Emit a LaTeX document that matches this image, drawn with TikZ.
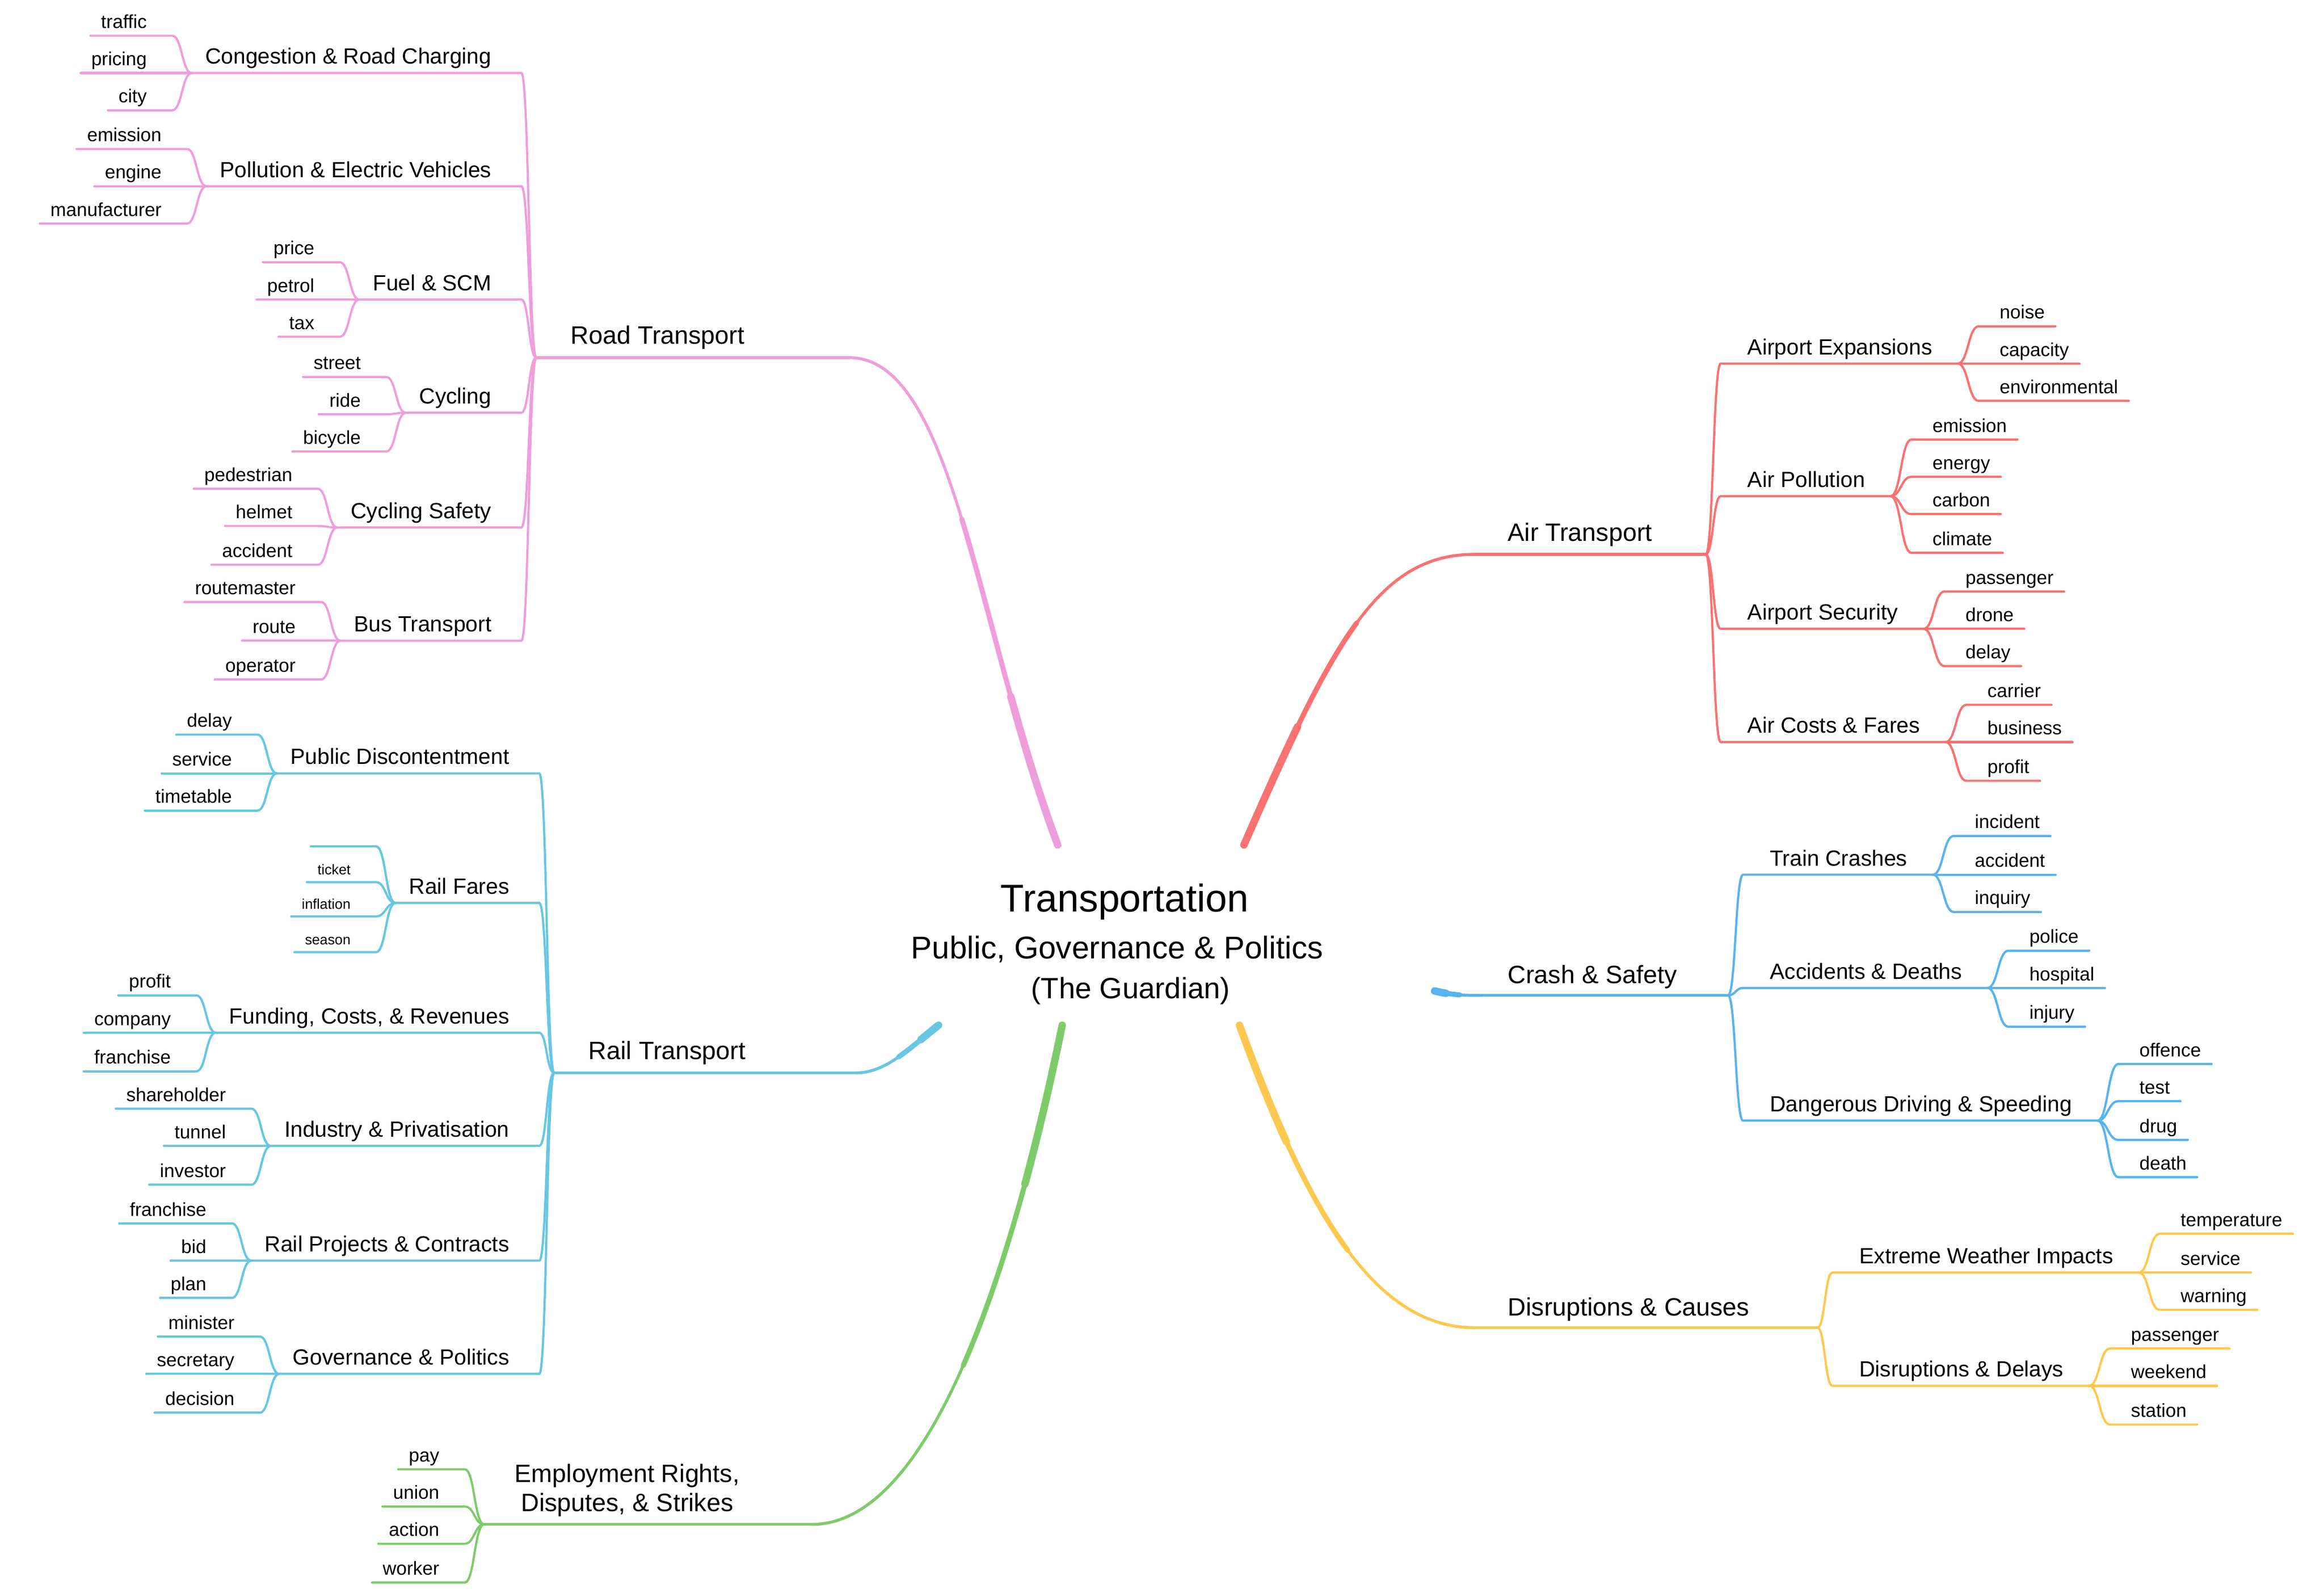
\documentclass[tikz,border=0pt]{standalone}
\usepackage{fontspec}
\setmainfont{Liberation Sans}
\usetikzlibrary{calc}
\definecolor{pinkc}{HTML}{EE9ED8}
\definecolor{redc}{HTML}{F87272}
\definecolor{cyanc}{HTML}{68C6E3}
\definecolor{bluec}{HTML}{58B3EE}
\definecolor{greenc}{HTML}{7ECB6B}
\definecolor{yelc}{HTML}{FDC84F}
\tikzset{
 leaf/.style={font=\fontsize{18}{20}\selectfont, inner sep=0pt},
 sleaf/.style={font=\fontsize{13.5}{15}\selectfont, inner sep=0pt},
 sub/.style={font=\fontsize{21}{24}\selectfont, inner sep=0pt},
 mainl/.style={font=\fontsize{24}{28}\selectfont, inner sep=0pt},
 ln/.style={line width=0.75mm, line cap=round},
 mln/.style={line width=1mm, line cap=round},
 sc/.style={to path={let \p1=(\tikztostart), \p2=(\tikztotarget) in .. controls ({(\x1+\x2)/2},\y1) and ({(\x1+\x2)/2},\y2) .. (\tikztotarget)}},
}
\newcommand\LL[4][leaf]{%
 \path (\J) ++(-13,0) coordinate (#2x);
 \coordinate (#2r) at (#2x |- 0,#3);
 \node[#1,anchor=base east] (#2) at ([shift={(-17,-5)}]#2r) {#4};
 \draw[ln,\C] (\J) to[sc] (#2r) -- ($(#2.west |- #2r)+(-7,0)$);
}
\newcommand\LR[4][leaf]{%
 \path (\J) ++(14,0) coordinate (#2x);
 \coordinate (#2l) at (#2x |- 0,#3);
 \node[#1,anchor=base west] (#2) at ([shift={(14,-5)}]#2l) {#4};
 \draw[ln,\C] (\J) to[sc] (#2l) -- ($(#2.east |- #2l)+(7,0)$);
}
\newcommand\SL[3]{%
 \path (\M) ++(-10,0) coordinate (#1x);
 \coordinate (#1r) at (#1x |- 0,#2);
 \node[sub,anchor=base east] (#1) at ([shift={(-20,-6)}]#1r) {#3};
 \coordinate (#1l) at ($(#1.west |- #1r)+(-9,0)$);
 \draw[ln,\C] (\M) to[sc] (#1r) -- (#1l);
 \def\J{#1l}%
}
\newcommand\SR[3]{%
 \path (\M) ++(10,0) coordinate (#1x);
 \coordinate (#1l) at (#1x |- 0,#2);
 \node[sub,anchor=base west] (#1) at ([shift={(18,-6)}]#1l) {#3};
 \coordinate (#1r) at ($(#1.east |- #1l)+(17,0)$);
 \draw[ln,\C] (\M) to[sc] (#1l) -- (#1r);
 \def\J{#1r}%
}
% tapered main curve: #1 color, #2..#5 coordinates P0..P3
\newcommand\MC[5]{%
 \draw[mln,#1] (#2) .. controls (#3) and (#4) .. (#5);
 \foreach \t/\w in {0.5/1.7mm, 0.22/2.5mm}{%
  \draw[line width=\w,line cap=round,#1]
   let \p0=(#2),\p1=($(#2)!\t!(#3)$),\p2=($(#3)!\t!(#4)$),\p3=($(#4)!\t!(#5)$),
       \p4=($(\p1)!\t!(\p2)$),\p5=($(\p2)!\t!(\p3)$),\p6=($(\p4)!\t!(\p5)$)
   in (\p0) .. controls (\p1) and (\p4) .. (\p6);
 }%
}
\begin{document}
\begin{tikzpicture}[x=0.5mm,y=-0.5mm]
\useasboundingbox (0,0) rectangle (1560,1069);
% center
\node[font=\fontsize{37}{40}\selectfont,inner sep=0] (t1) at (755,605) {Transportation};
\node[font=\fontsize{30}{34}\selectfont,inner sep=0] (t2) at (750,637) {Public, Governance \& Politics};
\node[font=\fontsize{28}{32}\selectfont,inner sep=0] (t3) at (759,665) {(The Guardian)};
\coordinate (s1) at (710,567);
\coordinate (s2) at (835,567);
\coordinate (s3) at (630,688);
\coordinate (s4) at (963,665);
\coordinate (s5) at (713,688);
\coordinate (s6) at (832,688);

% ===== Road transport
\def\C{pinkc}
\coordinate (road) at (360,240); \coordinate (roade) at (570,240);
\node[mainl,anchor=base west] (roadt) at (383,231) {Road Transport};
\MC{pinkc}{s1}{655,420}{640,240}{roade}
\draw[mln,pinkc] (roade) -- (road);
\def\M{road}
\SL{cong}{49}{Congestion \& Road Charging}
\LL{r1}{24}{traffic}\LL{r2}{49}{pricing}\LL{r3}{74}{city}
\SL{poll}{125}{Pollution \& Electric Vehicles}
\LL{r4}{100}{emission}\LL{r5}{125}{engine}\LL{r6}{150}{manufacturer}
\SL{fuel}{201}{Fuel \& SCM}
\LL{r7}{176}{price}\LL{r8}{201}{petrol}\LL{r9}{226}{tax}
\SL{cyc}{277}{Cycling}
\LL{r10}{253}{street}\LL{r11}{278}{ride}\LL{r12}{303}{bicycle}
\SL{cycs}{354}{Cycling Safety}
\LL{r13}{328}{pedestrian}\LL{r14}{353}{helmet}\LL{r15}{379}{accident}
\SL{bus}{430}{Bus Transport}
\LL{r16}{404}{routemaster}\LL{r17}{430}{route}\LL{r18}{456}{operator}

% ===== Rail transport
\def\C{cyanc}
\coordinate (rail) at (372,720); \coordinate (raile) at (575,720);
\node[mainl,anchor=base west] (railt) at (395,711) {Rail Transport};
\MC{cyanc}{s3}{612,702}{595,720}{raile}
\draw[mln,cyanc] (raile) -- (rail);
\def\M{rail}
\SL{pub}{519}{Public Discontentment}
\LL{q1}{493}{delay}\LL{q2}{519}{service}\LL{q3}{544}{timetable}
\SL{fares}{606}{Rail Fares}
\LL[sleaf]{q0}{568}{\phantom{ticke}}\LL[sleaf]{q4}{592}{ticket}\LL[sleaf]{q5}{615}{inflation}\LL[sleaf]{q6}{639}{season}
\SL{fund}{693}{Funding, Costs, \& Revenues}
\LL{q7}{668}{profit}\LL{q8}{693}{company}\LL{q9}{719}{franchise}
\SL{ind}{769}{Industry \& Privatisation}
\LL{q10}{744}{shareholder}\LL{q11}{769}{tunnel}\LL{q12}{795}{investor}
\SL{proj}{846}{Rail Projects \& Contracts}
\LL{q13}{821}{franchise}\LL{q14}{846}{bid}\LL{q15}{871}{plan}
\SL{gov}{922}{Governance \& Politics}
\LL{q16}{897}{minister}\LL{q17}{922}{secretary}\LL{q18}{948}{decision}

% ===== Employment
\def\C{greenc}
\coordinate (emp) at (325,1023); \coordinate (empe) at (545,1023);
\node[mainl,anchor=south,align=center] (empt) at (421,1018) {Employment Rights,\\ Disputes, \& Strikes};
\MC{greenc}{s5}{680,850}{625,1023}{empe}
\draw[mln,greenc] (empe) -- (emp);
\def\J{emp}
\LL{g1}{986}{pay}\LL{g2}{1011}{union}\LL{g3}{1036}{action}\LL{g4}{1062}{worker}

% ===== Air transport
\def\C{redc}
\coordinate (air) at (1145,372); \coordinate (aire) at (990,372);
\node[mainl,anchor=base west] (airt) at (1012,363) {Air Transport};
\MC{redc}{s2}{895,430}{925,372}{aire}
\draw[mln,redc] (aire) -- (air);
\def\M{air}
\SR{aexp}{244}{Airport Expansions}
\LR{a1}{219}{noise}\LR{a2}{244}{capacity}\LR{a3}{269}{environmental}
\SR{apol}{333}{Air Pollution}
\LR{a4}{295}{emission}\LR{a5}{320}{energy}\LR{a6}{345}{carbon}\LR{a7}{371}{climate}
\SR{asec}{422}{Airport Security}
\LR{a8}{397}{passenger}\LR{a9}{422}{drone}\LR{a10}{447}{delay}
\SR{acost}{498}{Air Costs \& Fares}
\LR{a11}{473}{carrier}\LR{a12}{498}{business}\LR{a13}{524}{profit}

% ===== Crash & safety
\def\C{bluec}
\coordinate (crash) at (1160,668); \coordinate (crashe) at (995,668);
\node[mainl,anchor=base west] (crasht) at (1012,660) {Crash \& Safety};
\MC{bluec}{s4}{975,668}{985,668}{crashe}
\draw[mln,bluec] (crashe) -- (crash);
\def\M{crash}
\SR{train}{587}{Train Crashes}
\LR{b1}{561}{incident}\LR{b2}{587}{accident}\LR{b3}{612}{inquiry}
\SR{accd}{663}{Accidents \& Deaths}
\LR{b4}{638}{police}\LR{b5}{663}{hospital}\LR{b6}{689}{injury}
\SR{dang}{752}{Dangerous Driving \& Speeding}
\LR{b7}{714}{offence}\LR{b8}{739}{test}\LR{b9}{765}{drug}\LR{b10}{790}{death}

% ===== Disruptions
\def\C{yelc}
\coordinate (dis) at (1220,891); \coordinate (dise) at (990,891);
\node[mainl,anchor=base west] (dist) at (1012,883) {Disruptions \& Causes};
\MC{yelc}{s6}{880,820}{925,891}{dise}
\draw[mln,yelc] (dise) -- (dis);
\def\M{dis}
\SR{wea}{854}{Extreme Weather Impacts}
\LR{y1}{828}{temperature}\LR{y2}{854}{service}\LR{y3}{879}{warning}
\SR{dd}{930}{Disruptions \& Delays}
\LR{y4}{905}{passenger}\LR{y5}{930}{weekend}\LR{y6}{956}{station}
\end{tikzpicture}
\end{document}
